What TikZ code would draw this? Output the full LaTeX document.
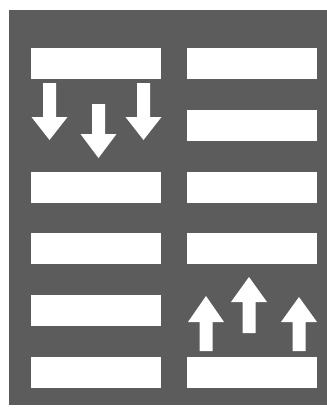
\documentclass[tikz,border=0pt]{standalone}
\usepackage{tikz}
\usetikzlibrary{calc}
\usepackage{xcolor}

\definecolor{slab}{gray}{0.36}
\tikzset{
  bar/.style = {fill = white, draw = none, minimum width = 130pt, minimum height = 31pt, inner sep = 0pt, outer sep = 0pt},
  flow/.style = {fill = white, draw = none}
}
% block arrow: centre x, tail y, head base y, tip y
\newcommand{\blockarrow}[4]{
  \fill[flow] (#1-6.5,#2) -- (#1+6.5,#2) -- (#1+6.5,#3) -- (#1+18,#3)
    -- (#1,#4) -- (#1-18,#3) -- (#1-6.5,#3) -- cycle;
}

\begin{document}
\begin{tikzpicture}[x = 1pt, y = -1pt]
            \useasboundingbox (0,0) rectangle (327,408);
            \fill[slab] (9,10) rectangle (327,405);
            % left column
            \foreach \r/\t in {1/48, 3/172, 4/233, 5/295, 6/357}
              \node[bar, anchor = north west] (L\r) at (31,\t) {};
            % right column
            \foreach \r/\t in {1/48, 2/110, 3/172, 4/233, 6/357}
              \node[bar, anchor = north west] (R\r) at (187,\t) {};
            % downward flow
            \blockarrow{49.5}{83}{117}{140}
            \blockarrow{98.5}{104}{134}{158}
            \blockarrow{143.5}{83}{117}{140}
            % upward flow
            \blockarrow{206}{351}{322}{296}
            \blockarrow{249}{333}{302}{277}
            \blockarrow{299}{351}{322}{297}
\end{tikzpicture}
\end{document}
